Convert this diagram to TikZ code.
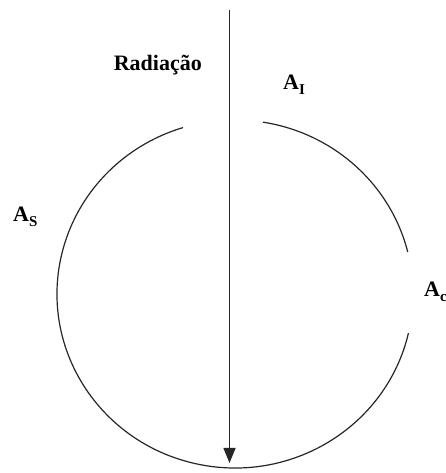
\documentclass[tikz,border=0pt]{standalone}
\usepackage{fontspec}
\setmainfont{Liberation Serif}
\usetikzlibrary{arrows.meta, positioning}

% lowered subscript in the label font
\newcommand{\lowsub}[1]{\raisebox{-0.45ex}{\fontsize{15}{15}\selectfont #1}}

\begin{document}
\begin{tikzpicture}[
		x=1pt, y=1pt,
		every node/.style={
				font=\fontsize{22}{24}\selectfont\bfseries,
				inner sep=0pt
			},
		rim/.style={line width=1.2pt, black!85},
		ray/.style={line width=1.3pt, black!85, -{Triangle[length=15pt, width=12pt]}}
	]
	\useasboundingbox (0,0) rectangle (445,473);

	\coordinate (c) at (235,179);      % centre of the ring
	\coordinate (src) at (229.5,463);  % top of the ray
	\coordinate (tip) at (229.5,10);   % arrow tip

	% the ring, open at the top and at the right
	\draw[rim] ([shift={(81:178 and 174)}]c)
	arc[start angle=81, end angle=14, x radius=178, y radius=174];
	\draw[rim] ([shift={(-13:178 and 174)}]c)
	arc[start angle=-13, end angle=-253, x radius=178, y radius=174];

	\draw[ray] (src) -- (tip);

	\node[anchor=base east] (rad) at (202,402) {Radiação};
	\node[anchor=base west] (ai) at (283,383) {A\lowsub{I}};
	\node[anchor=base west] (as) at (13,251) {A\lowsub{S}};
	\node[anchor=base west] (ac) at (424,176) {A\lowsub{c}};
\end{tikzpicture}
\end{document}
